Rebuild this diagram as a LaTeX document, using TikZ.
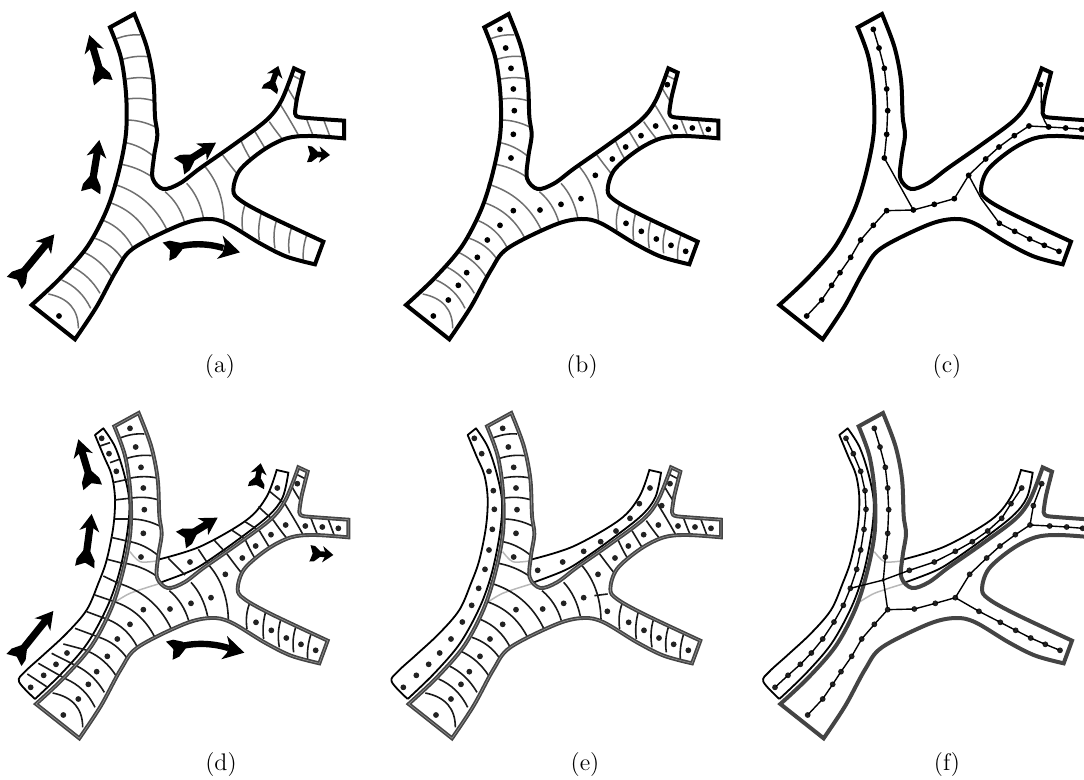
\documentclass[tikz,border=0pt]{standalone}
\usepackage{xcolor}
\usepackage{tikz}
\definecolor{EdgeGrey}{HTML}{444444}
\definecolor{EdgeSoft}{HTML}{8E8E8E}
\definecolor{CellGrey}{HTML}{707070}
\definecolor{HiddenGrey}{HTML}{B8B8B8}
\definecolor{DotDark}{HTML}{222222}
\tikzset{
  % Vessel outlines
  eK/.style={line width=2pt,black},
  eD/.style={line width=0.8pt,draw=EdgeGrey,double=EdgeSoft,double distance=0.35pt},
  eF/.style={line width=2pt,EdgeGrey},
  eS/.style={line width=0.9pt,black},
  % Cell walls
  cG/.style={line width=0.75pt,CellGrey},
  cK/.style={line width=0.8pt,black!90},
  cH/.style={line width=0.75pt,HiddenGrey},
  % Points and graph edges
  cellpt/.style={circle,fill=black,inner sep=0pt,minimum size=2.9pt},
  cellpd/.style={cellpt,fill=DotDark},
  gE/.style={line width=0.7pt,black,shorten >=-1pt,shorten <=-1pt},
  % Flow arrows
  shaft/.style={line width=3.2pt},
  capt/.style={font=\large,inner sep=0pt}
}
% Flow arrow parts: [keys]{x}{y}{angle}
\newcommand{\FlowTail}[4][]{\fill[shift={(#2,#3)},rotate=#4,#1] (0,-29) -- (13,0) -- (0,29) -- (22,27) -- (48,11) -- (48,-11) -- (22,-27) -- cycle;}
\newcommand{\FlowHead}[4][]{\fill[shift={(#2,#3)},rotate=#4,#1] (0,0) -- (-52,30) -- (-42,11) -- (-42,-11) -- (-52,-30) -- cycle;}
% Straight flow arrow: {shaft width}[keys]{tail x}{tail y}{tip x}{tip y}
\newcommand{\FlowArrow}[5][]{%
  \pgfmathsetmacro{\flowang}{atan2(-((#5)-(#3)),(#4)-(#2))}
  \FlowTail[#1]{#2}{#3}{\flowang}
  \FlowHead[#1]{#4}{#5}{\flowang}
  \draw[line width=3.6pt,shorten <=4pt,shorten >=4pt] (#2,#3) -- (#4,#5);}
\newcommand{\FlowSmall}[4]{%
  \pgfmathsetmacro{\flowang}{atan2(-((#4)-(#2)),(#3)-(#1))}
  \FlowTail[xscale=0.62,yscale=0.85]{#1}{#2}{\flowang}
  \FlowHead[xscale=0.62,yscale=0.82]{#3}{#4}{\flowang}
  \draw[line width=2.8pt,shorten <=3pt,shorten >=3pt] (#1,#2) -- (#3,#4);}
% Main vessel outline
\newcommand{\MainEdge}[1]{%
  \draw[#1] plot[smooth,tension=0.55] coordinates {(95,915) (180,835) (262,740) (320,630) (355,520) (378,400) (378,280) (362,170) (330,82)}
    -- plot[smooth,tension=0.55] coordinates {(403,42) (440,140) (460,240) (465,350) (472,405) (462,470) (458,535) (490,567) (540,550) (600,505) (700,435) (800,360) (845,300) (882,205)}
    -- plot[smooth,tension=0.3] coordinates {(910,218) (892,290) (885,340) (900,352) (1032,362)}
    -- plot[smooth,tension=0.55] coordinates {(1032,415) (930,408) (860,415) (790,450) (720,510) (700,570) (720,600) (800,645) (970,725)}
    -- plot[smooth,tension=0.55] coordinates {(945,793) (860,770) (780,730) (680,670) (620,657) (540,675) (400,745) (350,810) (290,920) (225,1018)}
    -- cycle;}
% Cell walls, start/control/end
\newcommand{\CellLines}[1]{%
  \foreach \ax/\ay/\cx/\cy/\bx/\by in {
    345/118/383/102/420/105, 368/178/405/166/442/170, 380/237/420/229/458/237,
    383/297/425/291/463/303, 378/360/425/360/468/382, 372/427/420/435/462/470,
    358/492/410/500/455/530, 340/552/450/585/500/688, 330/608/410/635/450/712,
    312/662/368/685/398/742, 285/715/338/733/368/778, 252/757/303/780/335/830,
    215/800/268/825/300/880, 185/840/243/865/272/925, 145/882/235/900/235/985,
    495/575/537/610/553/665, 560/550/597/590/610/652, 615/500/670/565/672/662,
    735/615/722/650/728/690, 785/635/772/680/778/720, 830/660/817/700/825/745,
    875/682/862/720/868/760, 920/705/907/745/910/780,
    668/465/690/495/710/520, 722/420/735/450/750/475, 765/395/780/420/795/445,
    808/365/825/390/845/415, 842/315/870/360/895/405, 862/262/875/285/887/303,
    875/225/888/232/900/238, 920/358/930/385/940/408, 972/362/982/388/990/410}
    \draw[#1] (\ax,\ay) .. controls ({(\ax+2*\cx)/3},{(\ay+2*\cy)/3}) and ({(\bx+2*\cx)/3},{(\by+2*\cy)/3}) .. (\bx,\by);}
% Cell points of the main vessel
\newcommand{\MainDots}[1]{%
  \foreach \nm/\px/\py in {
    t1/377/88, t2/394/144, t3/410/205, t4/417/267, t5/420/332, t6/417/403, t7/410/474,
    s1/177/948, s2/222/900, s3/252/856, s4/277/818, s5/309/772, s6/339/720, s7/377/676, s8/417/632,
    m1/497/630, m2/560/613, m3/620/596,
    u1/663/526, u2/714/477, u3/754/441, u4/800/407, u5/844/378,
    r1/903/381, r2/954/384, r3/1002/388, w1/879/254,
    b1/755/670, b2/801/694, b3/846/717, b4/890/736, b5/934/754}
    \node[#1] (\nm) at (\px,\py) {};}
% Split-off strips (written in the coordinates of panel d)
\newcommand{\StripEdge}{%
  \begin{scope}[shift={(-13,33)}]
    \draw[eS,line join=round] plot[smooth,tension=0.55] coordinates {(105,867) (57,815) (75,785) (130,735) (200,670) (260,600) (295,520) (320,450) (340,350) (345,265) (335,195) (312,140) (285,75)}
      -- plot[smooth,tension=0.55] coordinates {(310,55) (345,110) (372,190) (388,275) (382,367) (358,487) (322,590) (262,700) (185,790) (105,867)};
    \draw[eS] plot[smooth,tension=0.55] coordinates {(470,450) (600,410) (740,330) (800,260) (830,180)}
      -- plot[smooth,tension=0.55] coordinates {(865,188) (848,262) (805,318) (710,392) (610,462) (560,488) (475,520)};
    \draw[cH] plot[smooth] coordinates {(390,425) (420,455) (470,453)};
    \draw[cH] plot[smooth] coordinates {(340,580) (390,550) (475,522)};
  \end{scope}}
\newcommand{\StripPts}{l1/305/85, l2/327/131, l3/349/184, l4/362/242, l5/365/298, l6/359/358, l7/349/420, l8/337/478,
    l9/318/535, l10/297/586, l11/269/636, l12/235/687, l13/201/729, l14/168/763, l15/131/796, l16/92/832,
    v1/495/481, v2/570/456, v3/633/424, v4/684/395, v5/730/363, v6/772/325, v7/800/281, v8/832/234}
\begin{document}
\begin{tikzpicture}[x=0.16667pt,y=-0.16667pt]
  \useasboundingbox (0,0) rectangle (3252,2340);
  \clip (0,0) rectangle (3252,2340);
  % (a)
  \begin{scope}
    \CellLines{cG}
    \MainEdge{eK}
    \node[cellpt] (a1) at (177,948) {};
    \FlowArrow{43}{849}{163}{703}
    \FlowArrow{272}{578}{298}{420}
    \FlowArrow{310}{248}{268}{105}
    \FlowArrow{537}{499}{648}{428}
    \draw[shaft] (510,748) .. controls (570,725) and (630,732) .. (670,744);
    \FlowTail{498}{755}{20}
    \FlowHead[scale=1.2]{720}{757}{-14}
    \FlowSmall{808}{274}{835}{198}
    \FlowSmall{922}{462}{990}{465}
  \end{scope}
  % (b)
  \begin{scope}[shift={(1123,0)}]
    \CellLines{cG}
    \MainEdge{eK}
    \MainDots{cellpt}
  \end{scope}
  % (c)
  \begin{scope}[shift={(2243,0)}]
    \MainEdge{eK}
    \MainDots{cellpt}
    \foreach \p/\q in {t1/t2,t2/t3,t3/t4,t4/t5,t5/t6,t6/t7,t7/m1,s1/s2,s2/s3,s3/s4,s4/s5,s5/s6,s6/s7,s7/s8,s8/m1,
                       m1/m2,m2/m3,m3/u1,u1/u2,u2/u3,u3/u4,u4/u5,u5/r1,r1/r2,r2/r3,b1/b2,b2/b3,b3/b4,b4/b5}
      \draw[gE] (\p) -- (\q);
    \coordinate (ubend) at (700,595);
    \draw[gE] (u1) -- (ubend) -- (b1);
    \draw[gE] (w1) .. controls (885,300) and (870,340) .. (r1);
  \end{scope}
  % (d)
  \begin{scope}[shift={(13,1197)}]
    \StripEdge
    \CellLines{cK}
    \begin{scope}[shift={(-13,33)}]
      \foreach \ax/\ay/\bx/\by in {300/108/330/98, 330/158/358/148, 342/217/387/207, 343/270/396/264, 345/327/391/327,
          333/382/385/394, 322/448/372/461, 310/498/353/519, 285/555/343/575, 260/605/325/629, 225/655/298/682,
          190/702/265/722, 155/730/228/767, 115/760/198/807, 82/792/140/830,
          505/445/555/495, 595/418/628/467, 642/390/681/432, 695/360/735/387, 735/335/778/362, 775/290/821/332, 810/245/855/282}
        \draw[cK] (\ax,\ay) -- (\bx,\by);
      \foreach \nm/\px/\py in {l1/305/85, l2/327/131, l3/349/184, l13/201/729, l14/168/763, l15/131/796, l16/92/832, v2/570/456, v8/832/234}
        \node[cellpd] (\nm) at (\px,\py) {};
    \end{scope}
    \MainEdge{eD}
    \MainDots{cellpd}
    \begin{scope}[shift={(-13,33)}]
      \FlowArrow{42}{750}{160}{603}
      \FlowArrow{254}{471}{275}{312}
      \FlowArrow{278}{232}{235}{88}
      \FlowArrow{543}{390}{653}{323}
      \draw[shaft] (520,715) .. controls (580,695) and (640,700) .. (685,714);
      \FlowTail{508}{722}{20}
      \FlowHead[scale=1.2]{733}{728}{-14}
      \FlowSmall{768}{233}{782}{160}
      \FlowSmall{930}{430}{1000}{435}
    \end{scope}
  \end{scope}
  % (e)
  \begin{scope}[shift={(1131,1197)}]
    \StripEdge
    \CellLines{cK}
    \draw[cK] (652,590) -- (692,585);
    \MainEdge{eD}
    \MainDots{cellpd}
    \node[cellpd] (b0) at (691,637) {};
    \node[cellpd] (w2) at (854,320) {};
    \begin{scope}[shift={(-13,33)}]
      \foreach \nm/\px/\py in \StripPts
        \node[cellpd] (\nm) at (\px,\py) {};
    \end{scope}
  \end{scope}
  % (f)
  \begin{scope}[shift={(2246,1197)}]
    \StripEdge
    \MainEdge{eF}
    \MainDots{cellpd}
    \node[cellpd] (b0) at (691,637) {};
    \node[cellpd] (w2) at (854,320) {};
    \coordinate (cross) at (404,543);
    \begin{scope}[shift={(-13,33)}]
      \foreach \nm/\px/\py in \StripPts
        \node[cellpd] (\nm) at (\px,\py) {};
    \end{scope}
    \foreach \p/\q in {t1/t2,t2/t3,t3/t4,t4/t5,t5/t6,t6/t7,t7/cross,cross/s8,s1/s2,s2/s3,s3/s4,s4/s5,s5/s6,s6/s7,s7/s8,s8/m1,
                       m1/m2,m2/m3,m3/u1,u1/u2,u2/u3,u3/u4,u4/u5,u5/r1,r1/r2,r2/r3,w1/w2,w2/u5,
                       m3/b0,b0/b1,b1/b2,b2/b3,b3/b4,b4/b5,
                       l1/l2,l2/l3,l3/l4,l4/l5,l5/l6,l6/l7,l7/l8,l8/l9,l9/l10,l10/l11,l11/l12,l12/l13,l13/l14,l14/l15,l15/l16,
                       l9/cross,cross/v1,v1/v2,v2/v3,v3/v4,v4/v5,v5/v6,v6/v7,v7/v8}
      \draw[gE] (\p) -- (\q);
  \end{scope}
  % Captions
  \foreach \nm/\lab/\px/\py in {capA/a/660/1101, capB/b/1746/1101, capC/c/2841/1101, capD/d/663/2295, capE/e/1755/2295, capF/f/2841/2295}
    \node[capt] (\nm) at (\px,\py) {(\lab)};
\end{tikzpicture}
\end{document}
